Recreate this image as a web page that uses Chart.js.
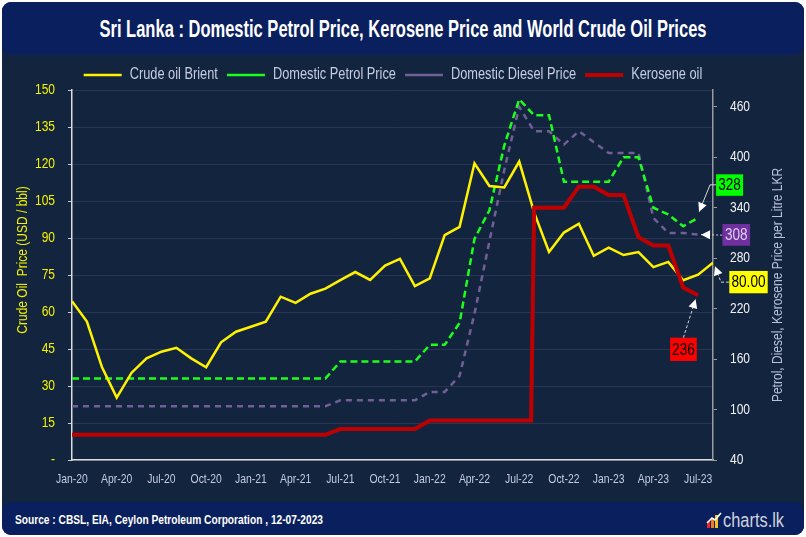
<!DOCTYPE html>
<html lang="en"><head><meta charset="utf-8">
<title>Sri Lanka fuel prices and crude oil</title>
<script src="https://cdn.jsdelivr.net/npm/chart.js@4.4.1/dist/chart.umd.min.js"></script>
<style>
html,body{margin:0;padding:0;width:806px;height:537px;overflow:hidden;background:#ffffff;}
#frame{position:absolute;left:2px;top:2px;width:802px;height:533px;background:#13243f;border-radius:9px;}
#chart{position:absolute;left:0;top:0;}
#head{position:absolute;left:2px;top:2px;width:802px;height:53px;background:#0a1f5e;border-radius:9px;}
#title{position:absolute;left:401px;top:27px;white-space:nowrap;color:#ffffff;font:bold 23px 'Liberation Sans',sans-serif;transform-origin:0 0;}
#foot{position:absolute;left:2px;top:502px;width:802px;height:33px;background:#0a1f5e;border-radius:9px;}
#src{position:absolute;left:13px;top:17px;white-space:nowrap;color:#ffffff;font:bold 13px 'Liberation Sans',sans-serif;transform-origin:0 0;}
#logo{position:absolute;left:704px;top:8px;height:20px;display:flex;align-items:center;}
#logotxt{color:#cfd3dc;font:20px 'Liberation Sans',sans-serif;white-space:nowrap;transform-origin:0 50%;display:inline-block;}
</style></head><body>
<div id="frame"></div>
<canvas id="chart" width="806" height="537"></canvas>
<div id="head"><span id="title">Sri Lanka : Domestic Petrol Price, Kerosene Price and World Crude Oil Prices</span></div>
<div id="foot"><span id="src">Source : CBSL, EIA, Ceylon Petroleum Corporation , 12-07-2023</span>
<span id="logo"><svg width="17" height="18" viewBox="0 0 17 18"><rect x="1" y="10" width="3" height="7" fill="#e8262b"/><rect x="5" y="7" width="3" height="10" fill="#f47b20"/><rect x="9" y="4" width="3" height="13" fill="#f7c21b"/><polyline points="1,12 6,7 9,9 15,2" fill="none" stroke="#ffffff" stroke-width="1.6"/></svg><span id="logotxt">charts.lk</span></span></div>
<script>
// ---- data ----
const months = ['Jan-20','Feb-20','Mar-20','Apr-20','May-20','Jun-20','Jul-20','Aug-20','Sep-20','Oct-20','Nov-20','Dec-20',
  'Jan-21','Feb-21','Mar-21','Apr-21','May-21','Jun-21','Jul-21','Aug-21','Sep-21','Oct-21','Nov-21','Dec-21',
  'Jan-22','Feb-22','Mar-22','Apr-22','May-22','Jun-22','Jul-22','Aug-22','Sep-22','Oct-22','Nov-22','Dec-22',
  'Jan-23','Feb-23','Mar-23','Apr-23','May-23','Jun-23','Jul-23','Aug-23'];
// Brent crude, USD/bbl (last entry = latest price 12-07-2023)
const crudeBrent = [64.4, 56.1, 37.8, 25.3, 35.4, 41.2, 43.9, 45.5, 41.2, 37.6, 47.7, 52.0,
  54.0, 56.1, 66.2, 63.7, 67.4, 69.5, 72.9, 76.2, 73.0, 78.8, 81.5, 70.5,
  73.6, 91.2, 94.5, 120.3, 111.1, 110.5, 121.0, 100.4, 84.3, 92.2, 95.8, 82.8,
  86.1, 83.1, 84.3, 78.2, 80.3, 72.9, 75.1, 80.0];
// Domestic petrol, LKR per litre
const petrolPrice = [137,137,137,137,137,137,137,137,137,137,137,137,
  137,137,137,137,137,137,157,157,157,157,157,157,
  177,177,203,303,337,414,469,450,450,371,371,371,
  371,400,400,340,332,318,328];
// Domestic diesel, LKR per litre
const dieselPrice = [104,104,104,104,104,104,104,104,104,104,104,104,
  104,104,104,104,104,104,111,111,111,111,111,111,
  121,121,140,214,300,385,460,431,431,415,431,418,
  405,405,405,328,310,310,308];
// Kerosene, LKR per litre, at price-change points (month index from Jan-20)
const keroMonth = [0, 17, 18, 23, 24, 30.8, 31, 33, 34, 35, 36, 37, 38, 39, 40, 41, 42];
const keroPrice = [70, 70, 77, 77, 87, 87, 340, 340, 365, 365, 355, 355, 305, 295, 295, 245, 236];
const seriesNames = ['Crude oil Brient','Domestic Petrol Price','Domestic Diesel Price','Kerosene oil'];
const leftTicks = [0,15,30,45,60,75,90,105,120,135,150];
const rightTicks = [40,100,160,220,280,340,400,460];
const xTickIdx = months.map((m,i)=>i).filter(i=>i%3===0);

// ---- styles ----
const FONT = "'Liberation Sans', sans-serif";
const NARROW = 0.8; // horizontal text compression (condensed look)
const C_CRUDE = '#fff200', C_PETROL = '#1cff1c', C_DIESEL = '#725f95', C_KERO = '#c00000';

// fit DOM texts to their widths in the reference (condensed face look)
function fitText(id, targetW, origin){
  const el = document.getElementById(id);
  const w = el.getBoundingClientRect().width;
  const k = targetW / w;
  el.style.transform = origin === 'center' ? `translate(-50%,-50%) scaleX(${k})` : `translateY(-50%) scaleX(${k})`;
  if (origin === 'center') el.style.transformOrigin = '50% 50%';
}
fitText('title', 607, 'center');
fitText('src', 308, 'left');
document.getElementById('logotxt').style.transform = 'scaleX(0.82)';

// condensed drawing for canvas text
const canvas = document.getElementById('chart');
const ctx = canvas.getContext('2d');
const _fill = ctx.fillText.bind(ctx), _measure = ctx.measureText.bind(ctx);
ctx.fillText = function(t, x, y, mw){
  this.save(); this.translate(x, y); this.scale(NARROW, 1);
  if (mw === undefined) _fill(t, 0, 0); else _fill(t, 0, 0, mw / NARROW);
  this.restore();
};
ctx.measureText = function(t){
  const m = _measure(t);
  return {width: m.width * NARROW, actualBoundingBoxAscent: m.actualBoundingBoxAscent, actualBoundingBoxDescent: m.actualBoundingBoxDescent,
          actualBoundingBoxLeft: m.actualBoundingBoxLeft * NARROW, actualBoundingBoxRight: m.actualBoundingBoxRight * NARROW};
};

const toXY = arr => arr.map((v,i)=>({x:i, y:v}));

const overlay = {
  id: 'overlay',
  afterInit(chart){
    const lg = chart.legend;
    if (lg) { const f = lg.fit; lg.fit = function(){ f.call(this); this.height = 32; }; }
  },
  afterDraw(chart){
    const {ctx, scales:{x, y, y1}} = chart;
    ctx.save();
    ctx.textAlign = 'center'; ctx.textBaseline = 'middle';
    // left axis title
    ctx.font = '15px ' + FONT; ctx.fillStyle = '#f5f200';
    ctx.save(); ctx.translate(23, 260); ctx.rotate(-Math.PI/2); ctx.fillText('Crude Oil  Price (USD / bbl)', 0, 0); ctx.restore();
    // right axis title
    ctx.fillStyle = '#b9c0dc';
    ctx.save(); ctx.translate(778, 285); ctx.rotate(-Math.PI/2); ctx.fillText('Petrol, Diesel, Kerosene Price per Litre LKR', 0, 0); ctx.restore();

    // callouts for latest values
    const lastI = petrolPrice.length - 1;
    const callouts = [
      {px: x.getPixelForValue(lastI), py: y1.getPixelForValue(petrolPrice[lastI]), text: String(petrolPrice[lastI]),
       fill: '#00ff00', color: '#000000', box: [18,-43.5,27,21.5], path: [[18,-33],[12,-33],[1,-6]], dash: []},
      {px: x.getPixelForValue(lastI), py: y1.getPixelForValue(dieselPrice[lastI]), text: String(dieselPrice[lastI]),
       fill: '#7030a0', color: '#d9d2ea', box: [24.3,-10.6,27.7,21.7], path: [[24,0.5],[3,0]], dash: [2,2]},
      {px: x.getPixelForValue(crudeBrent.length-1), py: y.getPixelForValue(crudeBrent[crudeBrent.length-1]), text: crudeBrent[crudeBrent.length-1].toFixed(2),
       fill: '#ffff00', color: '#000000', box: [16.3,8.3,38.4,22.3], path: [[16,19.5],[8,19.5],[2,3.5]], dash: [3,2]},
      {px: x.getPixelForValue(keroMonth[keroMonth.length-1]), py: y1.getPixelForValue(keroPrice[keroPrice.length-1]), text: String(keroPrice[keroPrice.length-1]),
       fill: '#ff0000', color: '#000000', box: [-28,42.5,26.7,23.3], path: [[-14.7,42.5],[-2.5,4]], dash: [3,2]}
    ];
    callouts.forEach(c => {
      const bx = c.px + c.box[0], by = c.py + c.box[1];
      ctx.fillStyle = c.fill; ctx.fillRect(bx, by, c.box[2], c.box[3]);
      ctx.fillStyle = c.color; ctx.font = '17px ' + FONT;
      ctx.fillText(c.text, bx + c.box[2]/2, by + c.box[3]/2 + 0.5);
      const pts = c.path.map(p => [c.px + p[0], c.py + p[1]]);
      ctx.strokeStyle = '#d6d6d6'; ctx.lineWidth = 1; ctx.setLineDash(c.dash);
      ctx.beginPath(); ctx.moveTo(pts[0][0], pts[0][1]);
      for (let k=1;k<pts.length;k++) ctx.lineTo(pts[k][0], pts[k][1]);
      ctx.stroke(); ctx.setLineDash([]);
      const a = pts[pts.length-2], b = pts[pts.length-1];
      const ang = Math.atan2(b[1]-a[1], b[0]-a[0]);
      const L = 9, W = 4.5;
      ctx.fillStyle = '#ffffff'; ctx.beginPath();
      ctx.moveTo(b[0], b[1]);
      ctx.lineTo(b[0] - L*Math.cos(ang) + W*Math.sin(ang), b[1] - L*Math.sin(ang) - W*Math.cos(ang));
      ctx.lineTo(b[0] - L*Math.cos(ang) - W*Math.sin(ang), b[1] - L*Math.sin(ang) + W*Math.cos(ang));
      ctx.closePath(); ctx.fill();
    });
    ctx.restore();
  }
};

new Chart(ctx, {
  type: 'line',
  data: {
    datasets: [
      {label: seriesNames[0], data: toXY(crudeBrent), yAxisID: 'y', borderColor: C_CRUDE, backgroundColor: C_CRUDE, borderWidth: 2.5, order: 1},
      {label: seriesNames[1], data: toXY(petrolPrice), yAxisID: 'y1', borderColor: C_PETROL, backgroundColor: C_PETROL, borderWidth: 2.5, borderDash: [7,4], order: 2},
      {label: seriesNames[2], data: toXY(dieselPrice), yAxisID: 'y1', borderColor: C_DIESEL, backgroundColor: C_DIESEL, borderWidth: 2.5, borderDash: [6,5], order: 3},
      {label: seriesNames[3], data: keroMonth.map((m,i)=>({x:m, y:keroPrice[i]})), yAxisID: 'y1', borderColor: C_KERO, backgroundColor: C_KERO, borderWidth: 4, order: 0}
    ]
  },
  options: {
    responsive: false,
    animation: false,
    events: [],
    elements: { point: { radius: 0 }, line: { tension: 0, borderJoinStyle: 'miter' } },
    layout: { padding: { top: 58, left: 0, right: 20, bottom: 0 } },
    plugins: {
      legend: {
        position: 'top',
        labels: {
          usePointStyle: true, pointStyle: 'line', pointStyleWidth: 38,
          padding: 9, color: '#c6cde0', font: { family: FONT, size: 16 },
          sort: (a,b) => a.datasetIndex - b.datasetIndex
        }
      },
      tooltip: { enabled: false }
    },
    scales: {
      x: {
        type: 'linear', min: 0, max: 43,
        afterBuildTicks: s => { s.ticks = xTickIdx.map(v => ({value: v})); },
        afterFit: s => { s.height = 77; },
        ticks: { autoSkip: false, maxRotation: 0, padding: 4, color: '#c5cce0', font: { family: FONT, size: 13 },
                 callback: v => months[v] },
        grid: { display: false },
        border: { display: true, color: '#dcdcdc', width: 1.5 }
      },
      y: {
        position: 'left', min: 0, max: 150,
        afterBuildTicks: s => { s.ticks = leftTicks.map(v => ({value: v})); },
        afterFit: s => { s.width = 72; },
        ticks: { padding: 13, color: '#f5f200', font: { family: FONT, size: 15 }, callback: v => v === 0 ? '-' : v },
        grid: { color: '#2a3453', lineWidth: 1, tickColor: '#cfcfcf', tickLength: 4 },
        border: { display: true, color: '#dcdcdc', width: 1.5 }
      },
      y1: {
        position: 'right', min: 40, max: 480,
        afterBuildTicks: s => { s.ticks = rightTicks.map(v => ({value: v})); },
        afterFit: s => { s.width = 73; },
        ticks: { padding: 13, color: '#f2f2f2', font: { family: FONT, size: 15 } },
        grid: { drawOnChartArea: false, tickColor: '#9a9a9a', tickLength: 4 },
        border: { display: true, color: '#9a9a9a', width: 1.5 }
      }
    }
  },
  plugins: [overlay]
});
</script>
</body></html>
